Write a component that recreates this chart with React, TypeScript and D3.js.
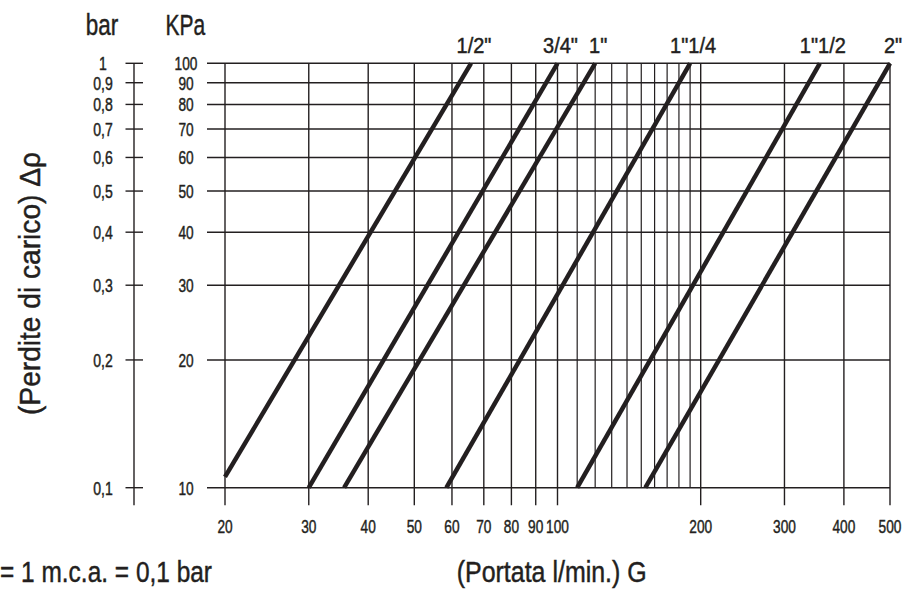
import React from "react";
import * as d3 from "d3";

// ---- data ----
const sizes = ['1/2"', '3/4"', '1"', '1"1/4', '1"1/2', '2"'];
const flowStart = [20, 30, 35.6, 58.4, 110, 153];
const dpStart = [10.6, 10, 10, 10, 10, 10];
const flowEnd = [65.8, 100, 120, 190, 356, 500];
const dpEnd = [100, 100, 100, 100, 100, 100];

const xMajorTicks = [20, 30, 40, 50, 60, 70, 80, 90, 100, 200, 300, 400, 500];
const xMinorTicks = [110, 120, 130, 140, 150, 160, 170, 180, 190];
const kpaTicks = [10, 20, 30, 40, 50, 60, 70, 80, 90, 100];
const kpaLabels = ["10", "20", "30", "40", "50", "60", "70", "80", "90", "100"];
const barLabels = ["0,1", "0,2", "0,3", "0,4", "0,5", "0,6", "0,7", "0,8", "0,9", "1"];

const W = 912;
const H = 589;
const INK = "#231f20";
const FONT = '"Liberation Sans", Arial, "DejaVu Sans", sans-serif';

function T(props: {
  x: number;
  y: number;
  size: number;
  sx?: number;
  anchor?: string;
  children: React.ReactNode;
}) {
  const { x, y, size, sx = 0.8, anchor = "middle", children } = props;
  return (
    <text
      transform={`translate(${x},${y}) scale(${sx},1)`}
      textAnchor={anchor}
      fontSize={size}
      stroke={INK}
      strokeWidth={0.45}
    >
      {children}
    </text>
  );
}

export default function App() {
  const x = d3.scaleLog().domain([20, 500]).range([225, 890]);
  const y = d3.scaleLog().domain([10, 100]).range([487.7, 63.3]);
  const x1 = x.range()[1];
  const yTop = y(100);
  const yBot = y(10);
  const tickBottom = yBot + 17.5;
  const gridLeft = 207;
  const barAxisX = 134;
  const line = d3
    .line<[number, number]>()
    .x((d) => x(d[0]))
    .y((d) => y(d[1]));

  return (
    <svg
      width={W}
      height={H}
      style={{ position: "absolute", left: 0, top: 0, background: "#fff" }}
      fontFamily={FONT}
      fill={INK}
    >
      {/* horizontal grid */}
      {kpaTicks.map((v) => (
        <line key={"h" + v} x1={gridLeft} x2={x1} y1={y(v)} y2={y(v)} stroke={INK} strokeWidth={1.4} />
      ))}
      {/* major vertical grid */}
      {xMajorTicks.map((v) => (
        <line key={"v" + v} x1={x(v)} x2={x(v)} y1={yTop} y2={tickBottom} stroke={INK} strokeWidth={1.4} />
      ))}
      {/* minor vertical grid */}
      {xMinorTicks.map((v) => (
        <line key={"m" + v} x1={x(v)} x2={x(v)} y1={yTop} y2={yBot} stroke={INK} strokeWidth={1.2} />
      ))}
      {/* bar axis */}
      <line x1={barAxisX} x2={barAxisX} y1={yTop} y2={tickBottom} stroke={INK} strokeWidth={1.4} />
      {kpaTicks.map((v) => (
        <line key={"bt" + v} x1={barAxisX - 8.5} x2={barAxisX + 9} y1={y(v)} y2={y(v)} stroke={INK} strokeWidth={1.4} />
      ))}
      {/* y tick labels */}
      {kpaTicks.map((v, i) => (
        <T key={"kl" + v} x={186} y={y(v) + 6.8} size={18.5} sx={0.74}>
          {kpaLabels[i]}
        </T>
      ))}
      {kpaTicks.map((v, i) => (
        <T key={"bl" + v} x={103} y={y(v) + 6.8} size={18.5} sx={0.76}>
          {barLabels[i]}
        </T>
      ))}
      {/* x tick labels */}
      {xMajorTicks.map((v) => (
        <T key={"xl" + v} x={x(v)} y={533} size={18.5} sx={0.74}>
          {v}
        </T>
      ))}
      {/* series lines */}
      {sizes.map((s, i) => (
        <path
          key={"s" + i}
          d={line([
            [flowStart[i], dpStart[i]],
            [flowEnd[i], dpEnd[i]],
          ]) as string}
          fill="none"
          stroke={INK}
          strokeWidth={4.5}
        />
      ))}
      {sizes.map((s, i) => (
        <T key={"sl" + i} x={x(flowEnd[i]) + 3} y={53} size={21.5} sx={0.93}>
          {s}
        </T>
      ))}
      {/* unit titles */}
      <T x={102} y={35} size={30} sx={0.75}>bar</T>
      <T x={185.3} y={35} size={30} sx={0.7}>KPa</T>
      {/* axis titles */}
      <text
        transform={`translate(39.5, 283.5) rotate(-90)`}
        textAnchor="middle"
        fontSize={29}
        textLength={263}
        lengthAdjust="spacingAndGlyphs"
        stroke={INK}
        strokeWidth={0.45}
      >
        (Perdite di carico) Δρ
      </text>
      <text
        x={551.7}
        y={582}
        textAnchor="middle"
        fontSize={29}
        textLength={190}
        lengthAdjust="spacingAndGlyphs"
        stroke={INK}
        strokeWidth={0.45}
      >
        (Portata l/min.) G
      </text>
      <text
        x={0}
        y={582}
        textAnchor="start"
        fontSize={29}
        textLength={212}
        lengthAdjust="spacingAndGlyphs"
        stroke={INK}
        strokeWidth={0.45}
      >
        = 1 m.c.a. = 0,1 bar
      </text>
    </svg>
  );
}
